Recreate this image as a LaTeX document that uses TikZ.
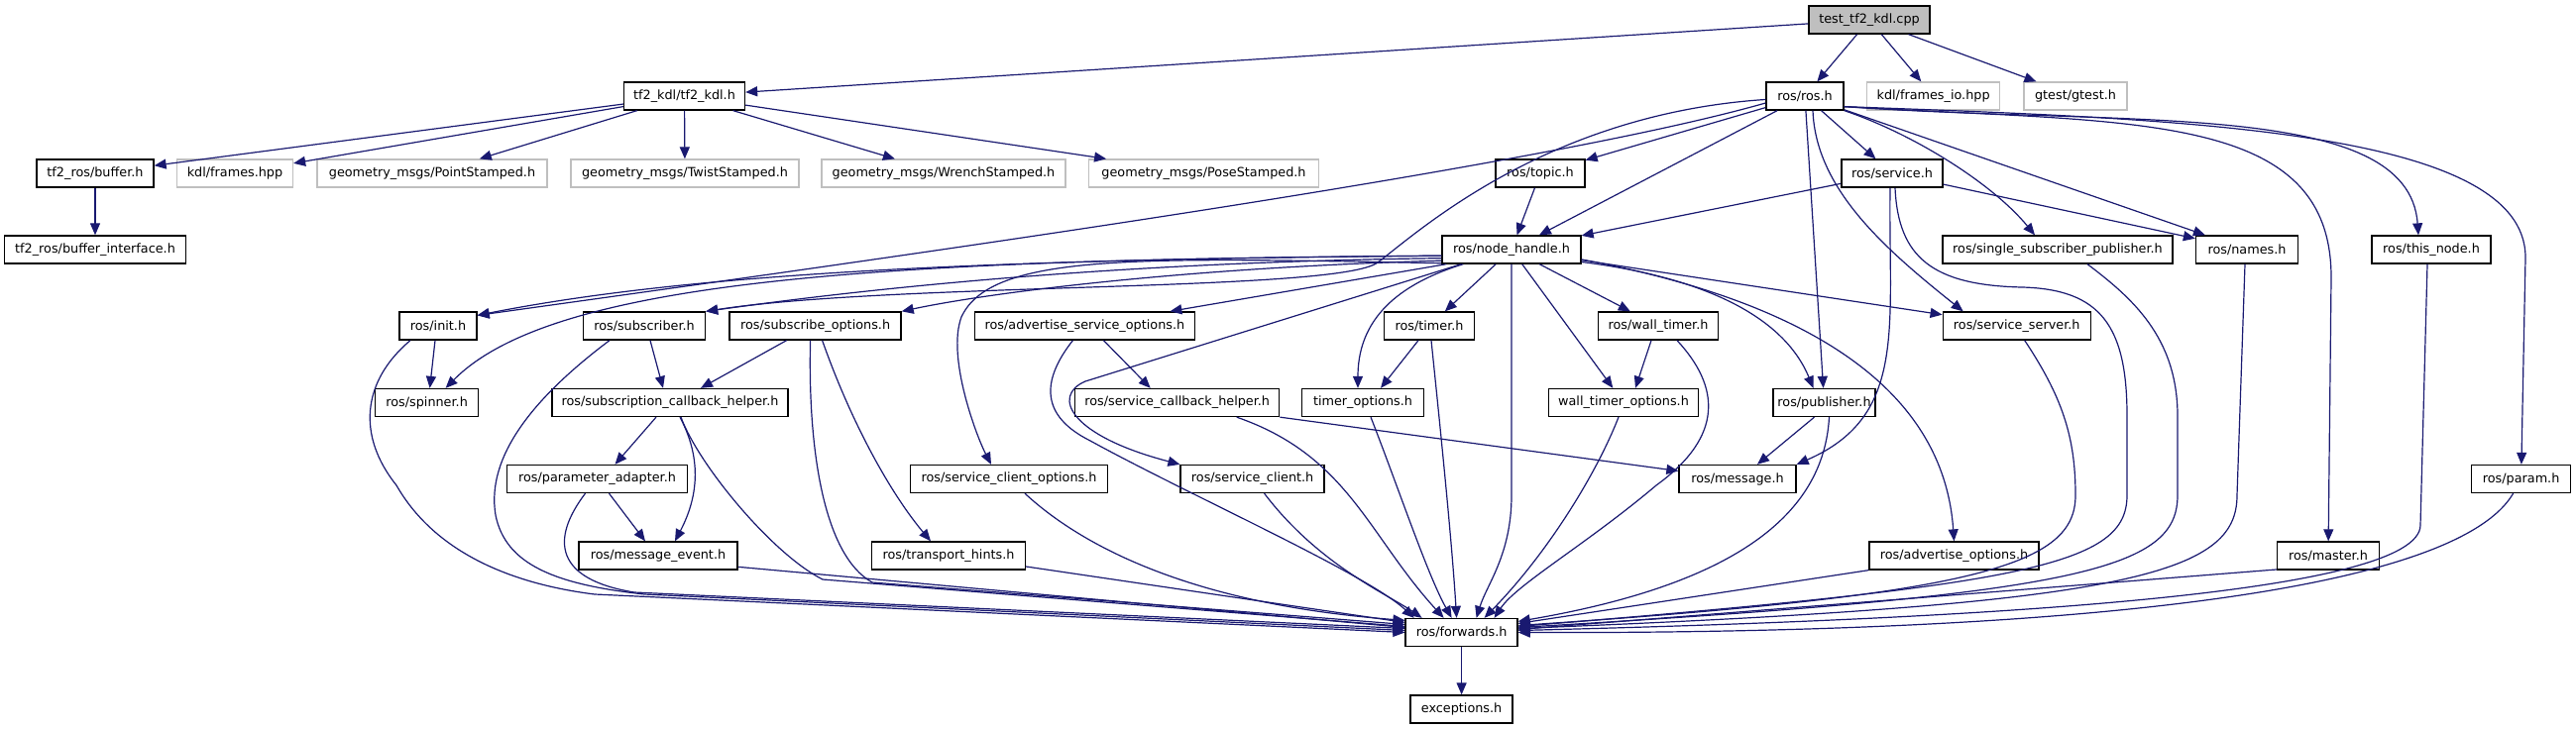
\documentclass[tikz,border=0pt]{standalone}
\usepackage{fontspec}
\setmainfont{DejaVu Sans}
\usetikzlibrary{arrows.meta,calc}
\definecolor{edgecol}{HTML}{191970}
\definecolor{extcol}{HTML}{BFBFBF}
\definecolor{rootfill}{HTML}{BFBFBF}
\tikzset{
  box/.style={draw=black, line width=1.3pt, fill=white, minimum height=28, inner xsep=0pt, inner ysep=0pt,
    font=\fontsize{12.8}{15}\selectfont},
  ext/.style={box, draw=extcol},
  dep/.style={draw=edgecol, line width=1.2pt, -{Triangle[length=12pt,width=10pt]}}
}
\begin{document}
\begin{tikzpicture}[x=1pt,y=-1pt]
\useasboundingbox (0,0) rectangle (2599,736);
% row 0
\node[box,fill=rootfill,minimum width=122] (root) at (1886,20) {test\_tf2\_kdl.cpp};
% row 1
\node[box,minimum width=122] (kdlh) at (690.5,97) {tf2\_kdl/tf2\_kdl.h};
\node[box,minimum width=78] (ros) at (1821,97) {ros/ros.h};
\node[ext,minimum width=134] (fio) at (1950.6,97) {kdl/frames\_io.hpp};
\node[ext,minimum width=104] (gtest) at (2094,97) {gtest/gtest.h};
% row 2
\node[box,minimum width=118] (buf) at (96,175) {tf2\_ros/buffer.h};
\node[ext,minimum width=117] (frames) at (237,175) {kdl/frames.hpp};
\node[ext,minimum width=232] (point) at (436,175) {geometry\_msgs/PointStamped.h};
\node[ext,minimum width=230] (twist) at (691,175) {geometry\_msgs/TwistStamped.h};
\node[ext,minimum width=246] (wrench) at (952,175) {geometry\_msgs/WrenchStamped.h};
\node[ext,minimum width=232] (pose) at (1214.5,175) {geometry\_msgs/PoseStamped.h};
\node[box,minimum width=90] (topic) at (1554,175) {ros/topic.h};
\node[box,minimum width=102] (service) at (1909,175) {ros/service.h};
% row 3
\node[box,minimum width=183] (bufi) at (96,252) {tf2\_ros/buffer\_interface.h};
\node[box,minimum width=140] (nh) at (1525,252) {ros/node\_handle.h};
\node[box,minimum width=232] (ssp) at (2076,252) {ros/single\_subscriber\_publisher.h};
\node[box,minimum width=103] (names) at (2267,252) {ros/names.h};
\node[box,minimum width=120] (thisn) at (2453,252) {ros/this\_node.h};
% row 4
\node[box,minimum width=78] (init) at (442,329) {ros/init.h};
\node[box,minimum width=123] (sub) at (650,329) {ros/subscriber.h};
\node[box,minimum width=173] (subo) at (822.6,329) {ros/subscribe\_options.h};
\node[box,minimum width=222] (aso) at (1094.4,329) {ros/advertise\_service\_options.h};
\node[box,minimum width=91] (timer) at (1442,329) {ros/timer.h};
\node[box,minimum width=121] (wt) at (1673,329) {ros/wall\_timer.h};
\node[box,minimum width=149] (ss) at (2034.7,329) {ros/service\_server.h};
% row 5
\node[box,minimum width=104] (spin) at (430.6,406.5) {ros/spinner.h};
\node[box,minimum width=238] (sch) at (676,406.5) {ros/subscription\_callback\_helper.h};
\node[box,minimum width=206] (sech) at (1187.7,406.5) {ros/service\_callback\_helper.h};
\node[box,minimum width=123] (to) at (1375,406.5) {timer\_options.h};
\node[box,minimum width=151] (wto) at (1638,406.5) {wall\_timer\_options.h};
\node[box,minimum width=103] (pub) at (1840.5,406.5) {ros/publisher.h};
% row 6
\node[box,minimum width=182] (pa) at (602.5,483.5) {ros/parameter\_adapter.h};
\node[box,minimum width=199] (sco) at (1018,483.5) {ros/service\_client\_options.h};
\node[box,minimum width=145] (sc) at (1263.6,483.5) {ros/service\_client.h};
\node[box,minimum width=118] (msg) at (1753,483.5) {ros/message.h};
\node[box,minimum width=100] (param) at (2543.6,483.5) {ros/param.h};
% row 7
\node[box,minimum width=160] (me) at (664,561) {ros/message\_event.h};
\node[box,minimum width=155] (th) at (957,561) {ros/transport\_hints.h};
\node[box,minimum width=171] (ao) at (1971.5,561) {ros/advertise\_options.h};
\node[box,minimum width=103] (master) at (2349,561) {ros/master.h};
% row 8, 9
\node[box,minimum width=113] (fwd) at (1474.6,638.5) {ros/forwards.h};
\node[box,minimum width=103] (exc) at (1474.6,716) {exceptions.h};

% ---- edges from the root and tf2_kdl
\draw[dep] (root) -- (kdlh);
\draw[dep] (root) -- (ros);
\draw[dep] (root) -- (fio);
\draw[dep] (root) -- (gtest);
\foreach \t in {buf,frames,point,twist,wrench,pose} \draw[dep] (kdlh) -- (\t);
\draw[dep] (buf) -- (bufi);

% ---- ros/ros.h
\draw[dep] (ros) -- (topic);
\draw[dep] (ros) -- (nh);
\draw[dep] (ros) -- (service);
\draw[dep] (ros) -- (names);
\draw[dep] (ros) -- (pub);
\draw[dep] (ros.south east) .. controls (1930,135) and (2010,185) .. ([xshift=-23pt]ssp.north);
\draw[dep] (ros.-15) .. controls (2150,128) and (2430,100) .. ([xshift=-13pt]thisn.north);
\draw[dep] (ros.-15) .. controls (2150,125) and (2352,110) .. (2352,280) -- (master);
\draw[dep] (ros.-15) .. controls (2200,120) and (2548,130) .. (2548,260) -- (param);
\draw[dep] ([xshift=8pt]ros.south) .. controls (1832,190) and (1900,250) .. ([xshift=-54pt]ss.north);
\draw[dep] (ros.190) .. controls (1550,170) and (900,260) .. (init.15);
\draw[dep] (ros.185) .. controls (1560,115) and (1430,235) .. (1390,265) .. controls (1350,295) and (900,285) .. (sub.north east);

% ---- ros/node_handle.h
\draw[dep] (nh.185) .. controls (1000,262) and (700,275) .. (init.15);
\draw[dep] (nh.185) .. controls (900,262) and (560,280) .. ([xshift=19pt]spin.north);
\draw[dep] (nh.187) .. controls (1100,265) and (850,295) .. (sub.north east);
\draw[dep] (nh.189) .. controls (1200,270) and (1000,295) .. (subo.north east);
\draw[dep] ([xshift=5pt]nh.south west) -- ([xshift=86pt]aso.north);
\draw[dep] (nh.191) .. controls (1150,260) and (1000,255) .. (970,320) .. controls (955,360) and (985,440) .. ([xshift=-18pt]sco.north);
\draw[dep] ([xshift=20pt]nh.south west) -- (1095,385) .. controls (1060,400) and (1080,440) .. (sc.north west);
\draw[dep] (nh) -- (timer);
\draw[dep] ([xshift=22pt]nh.south west) .. controls (1400,290) and (1370,330) .. ([xshift=-5pt]to.north);
\draw[dep] (nh.south) -- (1525,500) .. controls (1525,560) and (1500,590) .. ([xshift=15pt]fwd.north);
\draw[dep] (nh) -- (wt);
\draw[dep] (nh) -- (wto);
\draw[dep] (nh.-10) .. controls (1720,280) and (1800,320) .. ([xshift=-11pt]pub.north);
\draw[dep] (nh.-8) .. controls (1800,300) and (1960,380) .. (ao.north);
\draw[dep] (nh) -- (ss);

% ---- ros/service.h, ros/topic.h
\draw[dep] (service) -- (nh);
\draw[dep] (service) -- (names);
\draw[dep] ([xshift=-2pt]service.south) .. controls (1905,330) and (1925,420) .. (msg.north east);
\draw[dep] ([xshift=3pt]service.south) .. controls (1915,260) and (1950,288) .. (2040,290) .. controls (2120,292) and (2146,330) .. (2146,420) -- (2146,500) .. controls (2146,570) and (2050,590) .. (fwd.6);
\draw[dep] (topic) -- (nh);

% ---- right side into ros/forwards.h
\draw[dep] ([xshift=30pt]ssp.south) .. controls (2150,300) and (2197,340) .. (2197,420) -- (2197,500) .. controls (2197,575) and (2100,600) .. (fwd.5);
\draw[dep] ([xshift=-2pt]names.south) -- (2257,500) .. controls (2257,580) and (2150,610) .. (fwd.4);
\draw[dep] ([xshift=8pt]ss.south) .. controls (2080,400) and (2094,440) .. (2094,500) .. controls (2094,570) and (2000,600) .. (fwd.7);
\draw[dep] ([xshift=-4pt]thisn.south) -- (2442,530) .. controls (2442,600) and (2000,625) .. (fwd.2);
\draw[dep] ([xshift=-8pt]param.south) .. controls (2470,610) and (2000,640) .. (fwd.0);
\draw[dep] (master.195) -- (fwd.3);
\draw[dep] (ao.south west) -- (fwd.9);
\draw[dep] ([xshift=5pt]pub.south) .. controls (1840,520) and (1750,590) .. (fwd.11);
\draw[dep] ([xshift=-10pt]pub.south) -- ([xshift=20pt]msg.north);
\draw[dep] (sech.south east) -- ($(msg.west)+(0,-8)$);

% ---- top into ros/forwards.h
\draw[dep] ([xshift=19pt]wt.south) .. controls (1735,390) and (1740,440) .. (1671,490) .. controls (1600,550) and (1530,590) .. ([xshift=33pt]fwd.north);
\draw[dep] ([xshift=-5pt]wto.south) .. controls (1610,480) and (1560,560) .. ([xshift=23pt]fwd.north);
\draw[dep] ([xshift=2pt]timer.south) .. controls (1455,450) and (1465,550) .. ([xshift=-5pt]fwd.north);
\draw[dep] ([xshift=8pt]to.south) .. controls (1410,490) and (1440,580) .. ([xshift=-10pt]fwd.north);
\draw[dep] ([xshift=60pt]sech.south) .. controls (1360,460) and (1380,540) .. ([xshift=-18pt]fwd.north);
\draw[dep] ([xshift=12pt]sc.south) .. controls (1330,570) and (1400,600) .. ([xshift=-40pt]fwd.north);
\draw[dep] ([xshift=-12pt]aso.south) .. controls (1050,385) and (1050,420) .. (1100,445) .. controls (1200,500) and (1380,580) .. ([xshift=-48pt]fwd.north);

% ---- left into ros/forwards.h
\draw[dep] ([xshift=-28pt]init.south) .. controls (365,385) and (360,440) .. (400,490) .. controls (440,560) and (520,590) .. (600,600) -- (fwd.180);
\draw[dep] ([xshift=-35pt]sub.south) .. controls (540,400) and (490,460) .. (500,520) .. controls (510,570) and (560,590) .. (650,600) -- (fwd.178);
\draw[dep] ([xshift=-12pt]pa.south) .. controls (555,545) and (560,585) .. (640,598) -- (fwd.176);
\draw[dep] ([xshift=11pt]sch.south) .. controls (705,470) and (780,560) .. (830,585) -- (fwd.174);
\draw[dep] ([xshift=-5pt]subo.south) .. controls (815,450) and (830,560) .. (880,588) -- (fwd.172);
\draw[dep] (me.-8) -- (fwd.175);
\draw[dep] (th.-8) -- (fwd.170);
\draw[dep] ([xshift=16pt]sco.south) .. controls (1090,550) and (1200,610) .. (fwd.168);

% ---- remaining
\draw[dep] ([xshift=7pt]subo.south) .. controls (860,430) and (900,500) .. ([xshift=-18pt]th.north);
\draw[dep] ([xshift=-29pt]subo.south) -- ([xshift=31pt]sch.north);
\draw[dep] ([xshift=6pt]sub.south) -- ([xshift=-7pt]sch.north);
\draw[dep] ([xshift=-14pt]sch.south) -- ([xshift=18pt]pa.north);
\draw[dep] ([xshift=10pt]sch.south) .. controls (712,470) and (700,510) .. ([xshift=17pt]me.north);
\draw[dep] ([xshift=12pt]pa.south) -- ([xshift=-13pt]me.north);
\draw[dep] ([xshift=-3pt]init.south) -- ([xshift=3pt]spin.north);
\draw[dep] ([xshift=-11pt]timer.south) -- ([xshift=18pt]to.north);
\draw[dep] ([xshift=-7pt]wt.south) -- ([xshift=12pt]wto.north);
\draw[dep] ([xshift=19pt]aso.south) -- ([xshift=-27pt]sech.north);
\draw[dep] (fwd) -- (exc);
\end{tikzpicture}
\end{document}
